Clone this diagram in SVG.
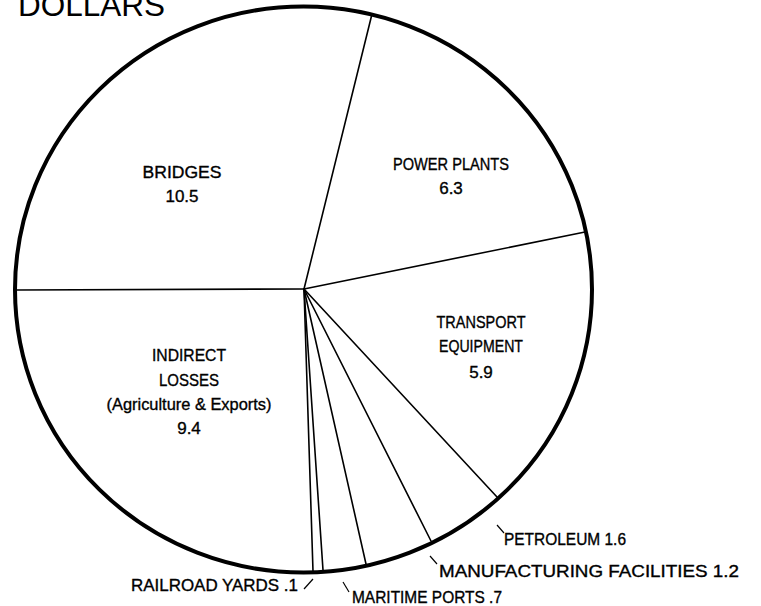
<svg xmlns="http://www.w3.org/2000/svg" width="761" height="606" viewBox="0 0 761 606">
<style>
.lbl{font-family:"Liberation Sans",Arial,sans-serif;font-size:17px;fill:#000;stroke:#000;stroke-width:0.35}
.c{text-anchor:middle}
.div{stroke:#000;stroke-width:1.6;fill:none;stroke-linecap:round}
.tick{stroke:#000;stroke-width:1.2;fill:none}
</style>
<rect width="761" height="606" fill="#fff"/>
<text x="18" y="16" font-family="Liberation Sans, Arial, sans-serif" font-size="31" textLength="147" lengthAdjust="spacingAndGlyphs">DOLLARS</text>
<g id="connectors">
<line class="div" x1="304" y1="289" x2="372" y2="14"/>
<line class="div" x1="304" y1="289" x2="585" y2="232"/>
<line class="div" x1="304" y1="289" x2="16" y2="290"/>
<line class="div" x1="304" y1="289" x2="497" y2="497"/>
<line class="div" x1="304" y1="289" x2="431" y2="541"/>
<line class="div" x1="304" y1="289" x2="366" y2="564"/>
<line class="div" x1="304" y1="289" x2="323" y2="570"/>
<line class="div" x1="304" y1="289" x2="313" y2="571"/>
<line class="tick" x1="497" y1="525" x2="504" y2="533"/>
<line class="tick" x1="430" y1="556" x2="437" y2="564"/>
<line class="tick" x1="343" y1="582" x2="349" y2="592"/>
<line class="tick" x1="304" y1="589" x2="313" y2="579"/>
</g>
<ellipse id="pie" cx="303.5" cy="289.5" rx="288.5" ry="283" fill="none" stroke="#000" stroke-width="4"/>
<g id="bridges"><text class="lbl c" x="182" y="178" textLength="79" lengthAdjust="spacingAndGlyphs">BRIDGES</text><text class="lbl c" x="182" y="202">10.5</text></g>
<g id="power-plants"><text class="lbl c" x="451" y="170" textLength="116" lengthAdjust="spacingAndGlyphs">POWER PLANTS</text><text class="lbl c" x="451" y="194">6.3</text></g>
<g id="transport-equipment"><text class="lbl c" x="481" y="328" textLength="89" lengthAdjust="spacingAndGlyphs">TRANSPORT</text><text class="lbl c" x="481" y="352" textLength="84" lengthAdjust="spacingAndGlyphs">EQUIPMENT</text><text class="lbl c" x="481" y="378">5.9</text></g>
<g id="indirect-losses"><text class="lbl c" x="189" y="361" textLength="74" lengthAdjust="spacingAndGlyphs">INDIRECT</text><text class="lbl c" x="189" y="386" textLength="60" lengthAdjust="spacingAndGlyphs">LOSSES</text><text class="lbl c" x="189" y="410" textLength="165" lengthAdjust="spacingAndGlyphs">(Agriculture &amp; Exports)</text><text class="lbl c" x="189" y="434">9.4</text></g>
<g id="petroleum"><text class="lbl" x="504" y="545" textLength="122" lengthAdjust="spacingAndGlyphs">PETROLEUM  1.6</text></g>
<g id="manufacturing"><text class="lbl" x="439" y="577" textLength="300" lengthAdjust="spacingAndGlyphs">MANUFACTURING  FACILITIES  1.2</text></g>
<g id="maritime-ports"><text class="lbl" x="352" y="603" textLength="150" lengthAdjust="spacingAndGlyphs">MARITIME  PORTS  .7</text></g>
<g id="railroad-yards"><text class="lbl" x="131" y="591" textLength="167" lengthAdjust="spacingAndGlyphs">RAILROAD  YARDS  .1</text></g>
</svg>
